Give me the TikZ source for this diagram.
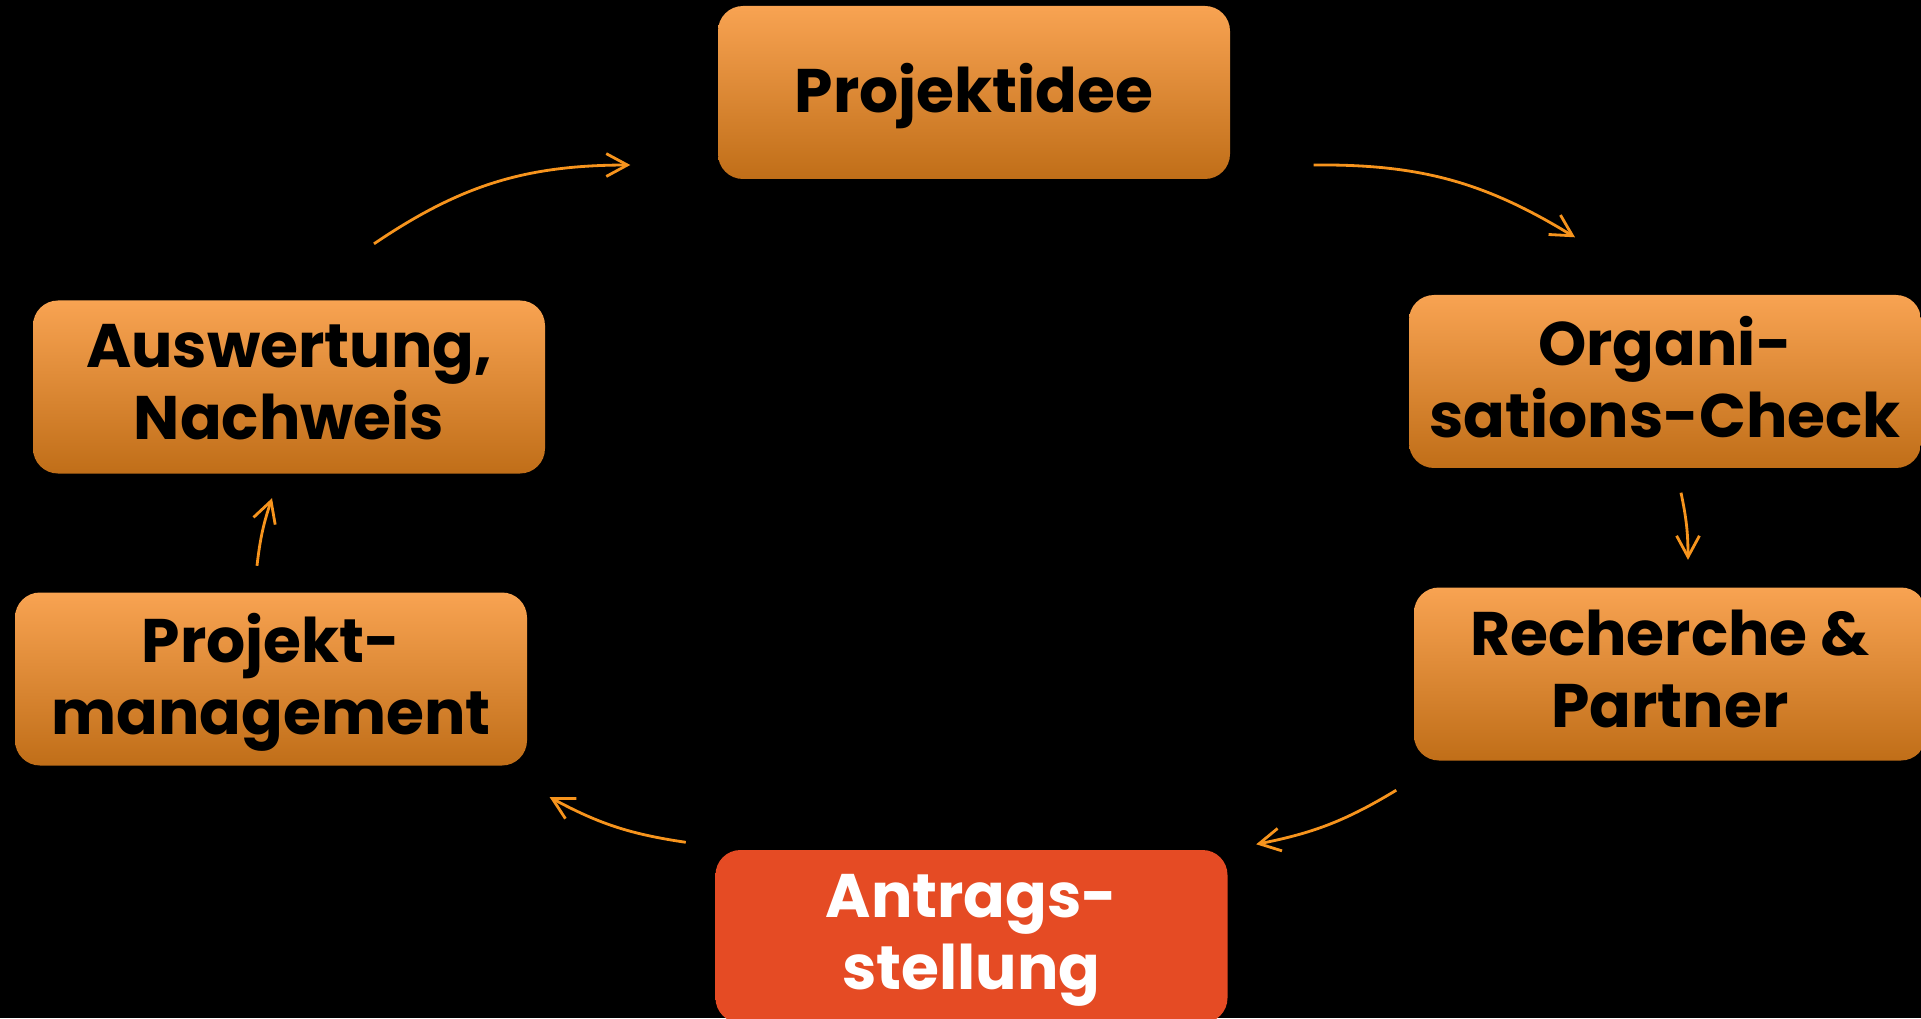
\documentclass[tikz,border=0pt]{standalone}
\usepackage{fontspec}
\setmainfont{Poppins}
\usetikzlibrary{arrows,arrows.meta,shapes}
\pgfdeclarelayer{background}
\pgfsetlayers{background,main}
\definecolor{phasetop}{RGB}{248,163,82}
\definecolor{phasemid}{RGB}{238,150,66}
\definecolor{phasebot}{RGB}{192,110,24}
\definecolor{antragred}{RGB}{229,75,36}
\definecolor{flowcol}{RGB}{247,148,29}
\tikzstyle{phase}=[rectangle,rounded corners=0.25cm,minimum width=5.12cm,minimum height=1.73cm,inner sep=0pt,text depth=0.1cm,align=center,top color=phasetop,middle color=phasemid,bottom color=phasebot,text=black,font=\fontsize{17.5}{20.5}\selectfont\bfseries]
\tikzstyle{current}=[phase,top color=antragred,middle color=antragred,bottom color=antragred,text=white]
\tikzstyle{flow}=[draw=flowcol,line width=0.8pt,-{Straight Barb[length=6pt,width=6.5pt]}]

\begin{document}
\begin{tikzpicture}
    \useasboundingbox (0,0) rectangle (19.21,10.18);
    \clip (0,0) rectangle (19.21,10.18);
    % the phases of the cycle
    \foreach \pos/\name/\txt in {{(9.74,9.255)/idee/Projektidee}, {(16.65,6.365)/org/{Organi-\\sations-Check}},
        {(16.70,3.44)/rech/{Recherche \&\\Partner}}, {(2.71,3.39)/pm/{Projekt-\\management}}, {(2.89,6.31)/aus/{Auswertung,\\Nachweis}}}
        \node[phase] (\name) at \pos {\txt};
    \node[current] (antrag) at (9.715,0.815) {Antrags-\\stellung};
    % arrows between the phases, clockwise
    \draw[flow] ([xshift=8.5mm,yshift=5.6mm]aus.north) to[bend left=17] ([xshift=-8.7mm,yshift=-7.25mm]idee.west);
    \draw[flow] ([xshift=8.3mm,yshift=-7.25mm]idee.east) to[bend left=16] ([xshift=-9mm,yshift=5.7mm]org.north);
    \draw[flow] ([xshift=1.6mm,yshift=-2.4mm]org.south) to[bend left=6] ([xshift=1.8mm,yshift=2.7mm]rech.north);
    \draw[flow] ([xshift=-1.7mm,yshift=-2.9mm]rech.south west) to[bend left=10] ([xshift=2.8mm,yshift=0.5mm]antrag.north east);
    \draw[flow] ([xshift=-2.9mm,yshift=0.7mm]antrag.north west) to[bend left=10] ([xshift=2.2mm,yshift=-3.1mm]pm.south east);
    \draw[flow] ([xshift=-1.4mm,yshift=2.6mm]pm.north) to[bend left=6] ([xshift=-1.7mm,yshift=-2.4mm]aus.south);
    % black page behind everything
    \begin{pgfonlayer}{background}
        \fill[black] (0,0) rectangle (19.21,10.18);
    \end{pgfonlayer}
\end{tikzpicture}
\end{document}
